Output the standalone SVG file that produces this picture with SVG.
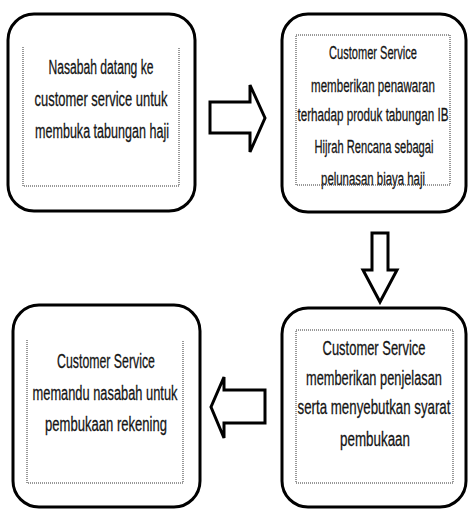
<svg xmlns="http://www.w3.org/2000/svg" width="468" height="510" viewBox="0 0 468 510">
  <style>
    .card { fill: #ffffff; stroke: #000000; stroke-width: 3; }
    .frame { fill: none; stroke: #333333; stroke-width: 1; stroke-dasharray: 1 1; }
    .label { font-family: "Liberation Sans", Arial, sans-serif; fill: #141414; stroke: #141414; stroke-width: 0.3; text-anchor: middle; }
    .big { font-size: 21px; }
    .small { font-size: 19px; }
    .arrow { fill: #ffffff; stroke: #000000; stroke-width: 3; stroke-linejoin: miter; }
  </style>

  <rect width="468" height="510" fill="#ffffff"/>

  <!-- Step 1: customer arrives (labels narrowed horizontally) -->
  <g id="step-arrive">
    <rect class="card" x="8" y="14" width="187" height="197" rx="26" ry="26"/>
    <path class="frame" d="M23,47 V186 H179 V47"/>
    <text class="label big" transform="translate(101,74) scale(0.577,1)">Nasabah datang ke</text>
    <text class="label big" transform="translate(101,106) scale(0.616,1)">customer service untuk</text>
    <text class="label big" transform="translate(102,138) scale(0.598,1)">membuka tabungan haji</text>
  </g>

  <!-- Step 2: product offer -->
  <g id="step-offer">
    <rect class="card" x="282" y="14" width="184" height="198" rx="26" ry="26"/>
    <text class="label small" transform="translate(373,59) scale(0.583,1)">Customer Service</text>
    <text class="label small" transform="translate(373,92) scale(0.608,1)">memberikan penawaran</text>
    <text class="label small" transform="translate(373,121) scale(0.614,1)">terhadap produk tabungan IB</text>
    <text class="label small" transform="translate(374,153) scale(0.587,1)">Hijrah Rencana sebagai</text>
    <text class="label small" transform="translate(373,185) scale(0.6,1)">pelunasan biaya haji</text>
    <rect class="frame" x="296" y="35" width="154" height="150"/>
  </g>

  <!-- Step 3: requirements explained -->
  <g id="step-explain">
    <rect class="card" x="282" y="308" width="184" height="199" rx="26" ry="26"/>
    <rect class="frame" x="296" y="330" width="157" height="153"/>
    <text class="label big" transform="translate(374,355) scale(0.617,1)">Customer Service</text>
    <text class="label big" transform="translate(374,385) scale(0.61,1)">memberikan penjelasan</text>
    <text class="label big" transform="translate(374,414) scale(0.633,1)">serta menyebutkan syarat</text>
    <text class="label big" transform="translate(375,446) scale(0.638,1)">pembukaan</text>
  </g>

  <!-- Step 4: account opening guidance -->
  <g id="step-guide">
    <rect class="card" x="13" y="305" width="187" height="202" rx="26" ry="26"/>
    <path class="frame" d="M27,340 V483 H183 V340"/>
    <text class="label big" transform="translate(106,368) scale(0.587,1)">Customer Service</text>
    <text class="label big" transform="translate(105,400) scale(0.612,1)">memandu nasabah untuk</text>
    <text class="label big" transform="translate(106,431) scale(0.622,1)">pembukaan rekening</text>
  </g>

  <!-- Block arrows between steps -->
  <g id="connectors">
    <path class="arrow" d="M210,102 H250 V85 L265,118 L250,152 V133 H210 Z"/>
    <path class="arrow" d="M372,233 H388 V270 H397 L380,302 L363,270 H372 Z"/>
    <path class="arrow" d="M265,390 H224 V377 L211,407 L224,438 V423 H265 Z"/>
  </g>
</svg>
